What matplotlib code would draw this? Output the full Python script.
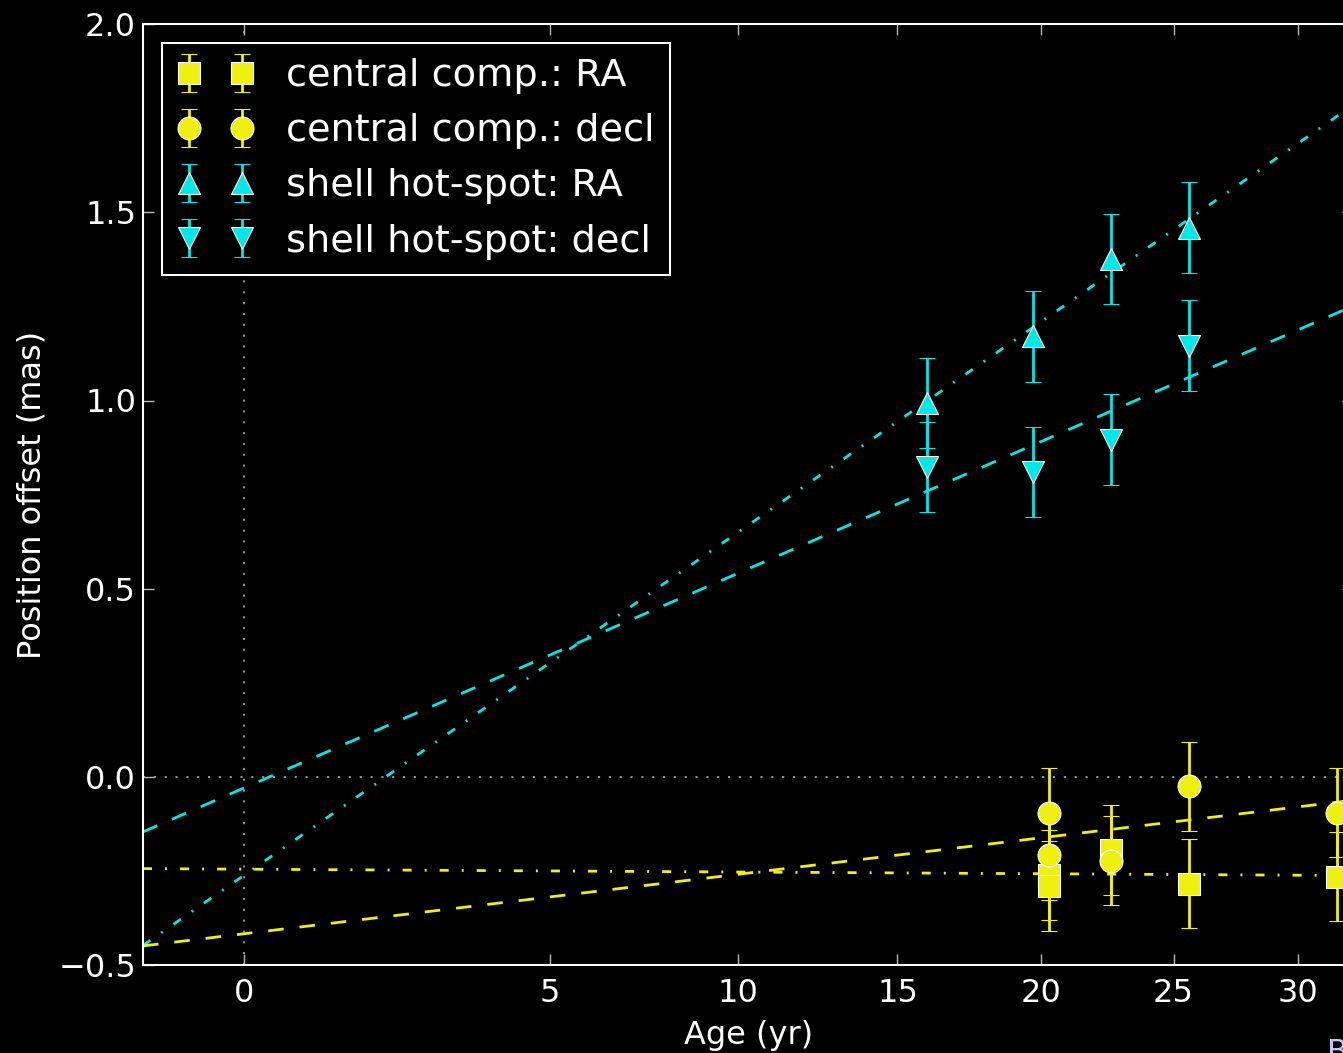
import numpy as np
import matplotlib
matplotlib.use("Agg")
import matplotlib.pyplot as plt

plt.rcParams['font.family'] = ['DejaVu Sans']
plt.rcParams['lines.scale_dashes'] = False

# Age axis is drawn on a power-law stretched scale
POWER = 0.69

# Central component offsets (mas)
central_age = [20.3, 20.3, 22.6, 25.6, 31.6]
central_ra = [-0.260, -0.289, -0.193, -0.283, -0.264]
central_decl = [-0.0955, -0.207, -0.2215, -0.0247, -0.094]
central_err = [0.119, 0.119, 0.119, 0.119, 0.119]

# Shell hot-spot offsets (mas)
shell_age = [16.0, 19.7, 22.6, 25.6]
shell_ra = [0.993, 1.170, 1.376, 1.459]
shell_decl = [0.823, 0.810, 0.896, 1.146]
shell_err = [0.12, 0.12, 0.12, 0.12]

# Linear fits in the stretched age coordinate: offset = a + b * age**POWER
fit_shell_ra = (-0.261, 0.1860)
fit_shell_decl = (-0.029, 0.1164)
fit_central_ra = (-0.2445, -0.00153)
fit_central_decl = (-0.416, 0.03224)

age_ticks = [0, 5, 10, 15, 20, 25, 30]
offset_ticks = [-0.5, 0.0, 0.5, 1.0, 1.5, 2.0]
age_limits = (-1.0, 32.3)
offset_limits = (-0.5, 2.0)

YELLOW = '#f0f010'
CYAN = '#05e6e6'


def fwd(t):
    t = np.asarray(t, dtype=float)
    return np.sign(t) * np.abs(t) ** POWER


def inv(u):
    u = np.asarray(u, dtype=float)
    return np.sign(u) * np.abs(u) ** (1.0 / POWER)


W, H = 1343, 1053
fig = plt.figure(figsize=(W / 100, H / 100), dpi=100, facecolor='black')
ax = fig.add_axes([143 / W, 1 - 965.4 / H, (1353.3 - 143) / W, 941.5 / H])
ax.set_facecolor('black')
ax.set_xscale('function', functions=(fwd, inv))
ax.set_xlim(*age_limits)
ax.set_ylim(*offset_limits)

# reference lines
ax.axvline(0, color='#a0a0a0', lw=1.3, dashes=(1.5, 6.3), zorder=1)
ax.axhline(0, color='#a0a0a0', lw=1.3, dashes=(1.5, 6.3), zorder=1)

# fit lines
tgrid = np.linspace(age_limits[0], age_limits[1], 400)
dash = (11.2, 11.5)
dashdot = (6.5, 9.4, 1.4, 9.4)
for (a, b), col, ds in [(fit_shell_ra, CYAN, dashdot),
                        (fit_shell_decl, CYAN, dash),
                        (fit_central_ra, YELLOW, dashdot),
                        (fit_central_decl, YELLOW, dash)]:
    ax.plot(tgrid, a + b * fwd(tgrid), color=col, lw=2.0, dashes=ds, zorder=1.8)

common = dict(linestyle='none', markersize=16.5, markeredgecolor='white',
              markeredgewidth=0.8, elinewidth=2.0, capsize=5.8, capthick=2.0)
ax.errorbar(central_age, central_ra, yerr=central_err, marker='s', color=YELLOW,
            label='central comp.: RA', **common)
ax.errorbar(central_age, central_decl, yerr=central_err, marker='o', color=YELLOW,
            label='central comp.: decl', **common)
ax.errorbar(shell_age, shell_ra, yerr=shell_err, marker='^', color=CYAN,
            label='shell hot-spot: RA', **common)
ax.errorbar(shell_age, shell_decl, yerr=shell_err, marker='v', color=CYAN,
            label='shell hot-spot: decl', **common)

ax.set_xticks(age_ticks)
ax.set_yticks(offset_ticks)
ax.tick_params(which='both', direction='in', top=True, right=True, length=8,
               width=1, color='#b8b8b8', labelcolor='white', labelsize=23)
ax.tick_params(axis='x', pad=9)
ax.tick_params(axis='y', pad=5)
for sp in ax.spines.values():
    sp.set_color('white')
    sp.set_linewidth(1.5)

ax.set_xlabel('Age (yr)', color='white', fontsize=23, labelpad=8)
ax.set_ylabel('Position offset (mas)', color='white', fontsize=23, labelpad=8)

leg = ax.legend(loc='upper left', numpoints=2, fontsize=27.5, handlelength=2.0,
                handletextpad=0.85, labelspacing=0.5, borderpad=0.4,
                borderaxespad=0.5, fancybox=False, framealpha=1,
                facecolor='black', edgecolor='white')
leg.get_frame().set_linewidth(1.5)
for t in leg.get_texts():
    t.set_color('white')

fig.text(1327 / W, 1 - 1038 / H, 'B', color='#c4c4f0', fontsize=22, va='top', ha='left')

fig.savefig('out.png', dpi=100, facecolor='black')
